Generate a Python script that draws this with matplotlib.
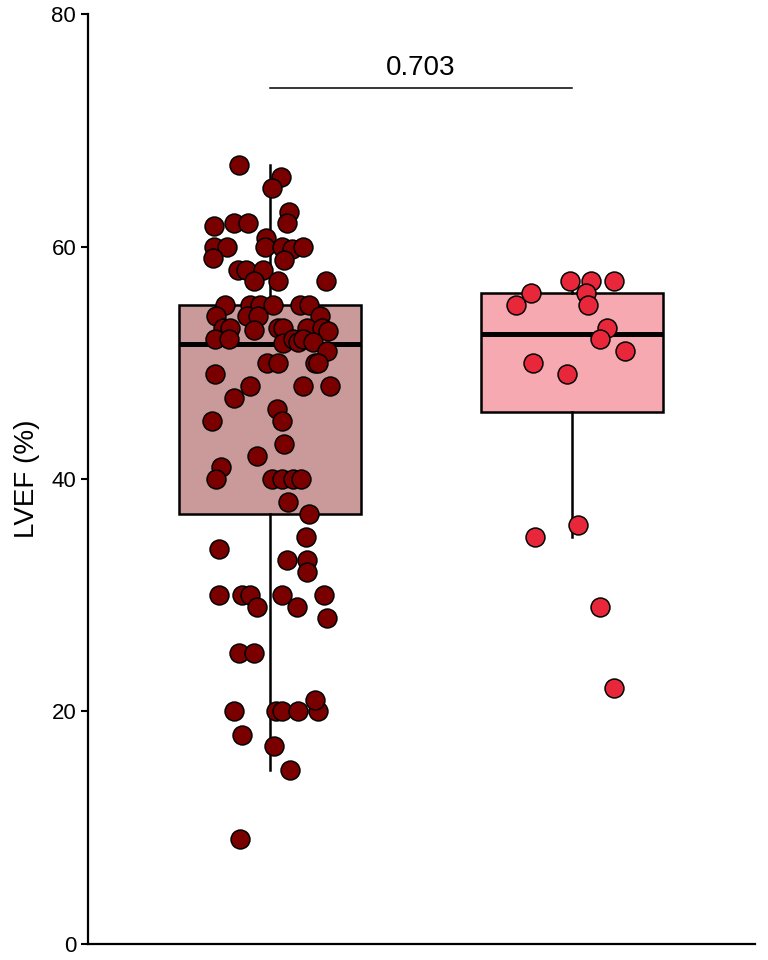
import numpy as np
import matplotlib
matplotlib.use('Agg')
import matplotlib.pyplot as plt

plt.rcParams['font.family'] = ['Liberation Sans', 'DejaVu Sans']

# Data
groups = ['Group 1', 'Group 2']
colors = ['#7a0000', '#e8283a']

# group 1: horizontal jitter offset and LVEF value
g1_jit = [-0.103, 0.036, 0.007, 0.063, 0.056, -0.185, -0.119, -0.073, -0.013, -0.185,
          -0.142, -0.017, 0.040, 0.073, 0.109, -0.189, 0.046, -0.106, -0.079, -0.023,
          -0.053, 0.026, 0.185, -0.149, -0.066, -0.033, 0.010, 0.099, 0.129, -0.179,
          -0.076, -0.040, 0.166, -0.156, -0.132, -0.053, 0.026, 0.043, 0.123, 0.172,
          0.192, -0.182, -0.136, 0.043, 0.076, 0.093, 0.109, 0.142, 0.189, -0.010,
          0.026, 0.149, 0.159, -0.182, -0.066, 0.109, 0.199, -0.119, 0.023, -0.192,
          0.040, 0.046, -0.043, -0.162, -0.179, 0.007, 0.040, 0.076, 0.103, 0.060,
          0.129, 0.119, -0.169, 0.056, 0.123, 0.123, -0.169, -0.093, -0.066, 0.040,
          0.179, -0.043, 0.089, 0.189, -0.103, -0.053, -0.119, 0.020, 0.040, 0.093,
          0.159, 0.149, -0.093, 0.013, 0.066, -0.099]
g1_val = [67, 66, 65, 63, 62, 61.8, 62, 62, 60.7, 60,
          60, 60, 60, 59.8, 60, 59, 58.8, 58, 58, 58,
          57, 57, 57, 55, 55, 55, 55, 55, 55, 54,
          54, 54, 54, 53, 53, 52.8, 53, 53, 53, 53,
          52.7, 52, 52, 51.7, 52, 51.8, 52, 51.8, 51, 50,
          50, 50, 50, 49, 48, 48, 48, 47, 46, 45,
          45, 43, 42, 41, 40, 40, 40, 40, 40, 38,
          37, 35, 34, 33, 33, 32, 30, 30, 30, 30,
          30, 29, 29, 28, 25, 25, 20, 20, 20, 20,
          20, 21, 18, 17, 15, 9]

g2_jit = [-0.007, 0.063, 0.139, -0.136, 0.046, -0.185, 0.053, 0.116, 0.093, 0.175,
          -0.129, -0.017, -0.123, 0.020, 0.093, 0.139]
g2_val = [57, 57, 57, 56, 56, 55, 55, 53, 52, 51, 50, 49, 35, 36, 29, 22]

# box summary: whisker low, q1, median, q3, whisker high
box_lo = [15, 35]
box_q1 = [37, 45.75]
box_med = [51.6, 52.5]
box_q3 = [55, 56]
box_hi = [67, 57]

p_value = '0.703'
y_ticks = [0, 20, 40, 60, 80]

fig = plt.figure(figsize=(7.68, 9.6), dpi=100)
ax = fig.add_axes([0.1146, 0.0167, 0.8684, 0.9687])

stats = []
for i in range(2):
    stats.append({'whislo': box_lo[i], 'q1': box_q1[i], 'med': box_med[i],
                  'q3': box_q3[i], 'whishi': box_hi[i], 'fliers': []})
bp = ax.bxp(stats, positions=[1, 2], widths=0.6, patch_artist=True,
            showcaps=False, showfliers=False,
            boxprops=dict(linewidth=1.8, edgecolor='black'),
            whiskerprops=dict(linewidth=1.8, color='black'),
            medianprops=dict(linewidth=3.6, color='black', solid_capstyle='butt'))
for patch, c in zip(bp['boxes'], colors):
    rgb = np.array(matplotlib.colors.to_rgb(c))
    patch.set_facecolor(0.4 * rgb + 0.6)

ax.scatter(1 + np.array(g1_jit), g1_val, s=185, color=colors[0],
           edgecolor='black', linewidth=1.1, zorder=3)
ax.scatter(2 + np.array(g2_jit), g2_val, s=185, color=colors[1],
           edgecolor='black', linewidth=1.1, zorder=3)

# significance bracket
ax.plot([1, 2], [73.6, 73.6], color='black', linewidth=1.1)
ax.text(1.5, 74.2, p_value, ha='center', va='bottom', fontsize=20)

ax.set_xlim(0.397, 2.606)
ax.set_ylim(0, 80)
ax.set_yticks(y_ticks)
ax.set_xticks([])
ax.set_ylabel('LVEF (%)', fontsize=20, labelpad=8)
ax.tick_params(axis='y', labelsize=16, length=5, width=1.5, direction='out')
for side in ['top', 'right']:
    ax.spines[side].set_visible(False)
for side in ['left', 'bottom']:
    ax.spines[side].set_linewidth(1.6)

fig.savefig('out.png', dpi=100)
